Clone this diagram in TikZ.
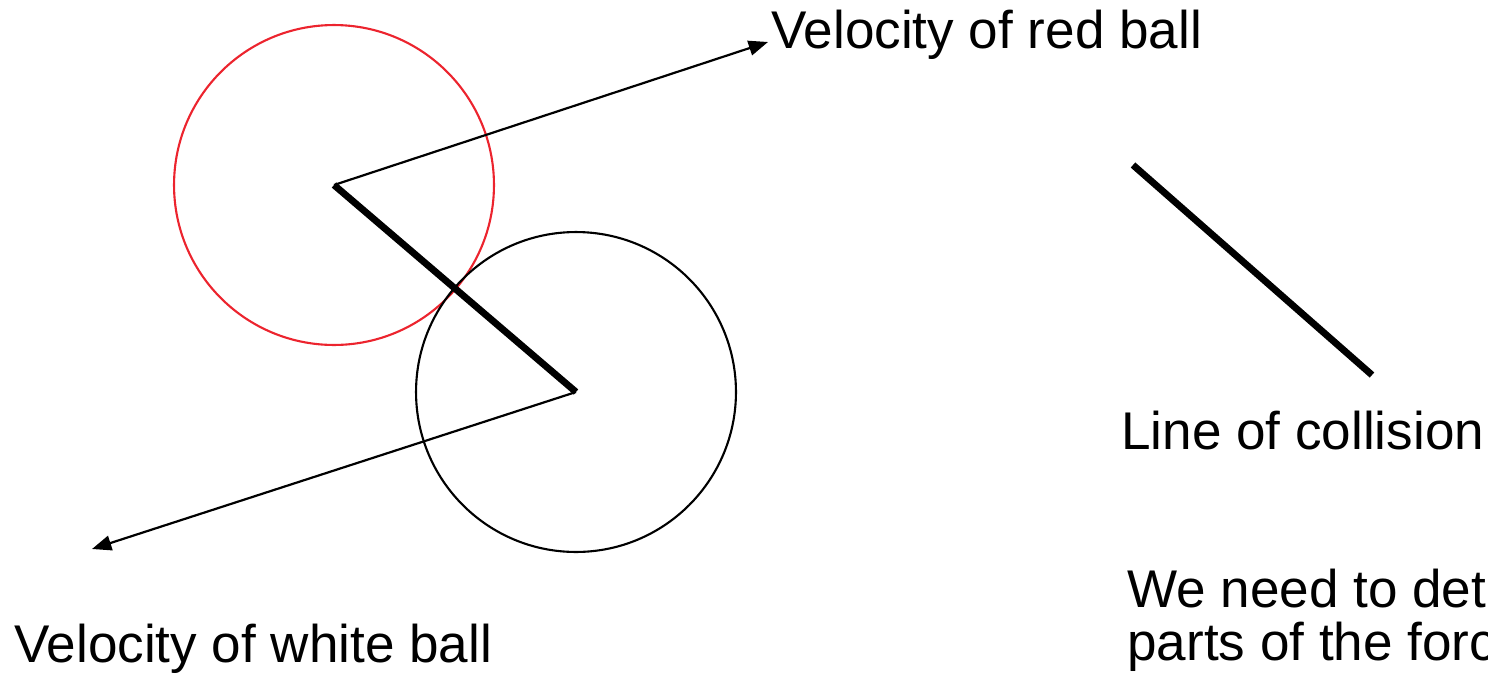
\documentclass[tikz,border=0pt]{standalone}
\usepackage{fontspec}
\setmainfont{Liberation Sans}
\usetikzlibrary{arrows.meta}
\definecolor{ballred}{RGB}{236,36,46}
\begin{document}
\begin{tikzpicture}[
x=0.02cm, y=-0.02cm,
ball/.style={draw, circle, minimum size=6.4cm, inner sep=0pt, line width=1.2pt},
velocity/.style={-{Triangle[length=11pt, width=8.5pt]}, line width=1.25pt},
contact/.style={line width=3.9pt},
label/.style={anchor=base west, inner sep=0pt, font=\fontsize{30.2}{31}\selectfont}
]
\useasboundingbox (0,0) rectangle (1488,673);
\clip (0,0) rectangle (1488,673);

\node[ball, draw=ballred] (redball) at (334,185) {};
\node[ball] (whiteball) at (576,392) {};

\coordinate (redtip) at (768,42);
\coordinate (whitetip) at (92,549);

\draw[velocity] (redball.center) -- (redtip);
\draw[velocity] (whiteball.center) -- (whitetip);
\draw[contact] (redball.center) -- (whiteball.center);

\coordinate (lineA) at (1133,165);
\coordinate (lineB) at (1372,375);
\draw[contact] (lineA) -- (lineB);

\node[label] (redlabel) at (771,48) {Velocity of red ball};
\node[label] (whitelabel) at (14,662) {Velocity of white ball};
\node[label] (linelabel) at (1121,449) {Line of collision};
\node[label] (task1) at (1127,607) {We need to determine the};
\node[label] (task2) at (1127,660) {parts of the force};

\end{tikzpicture}
\end{document}
